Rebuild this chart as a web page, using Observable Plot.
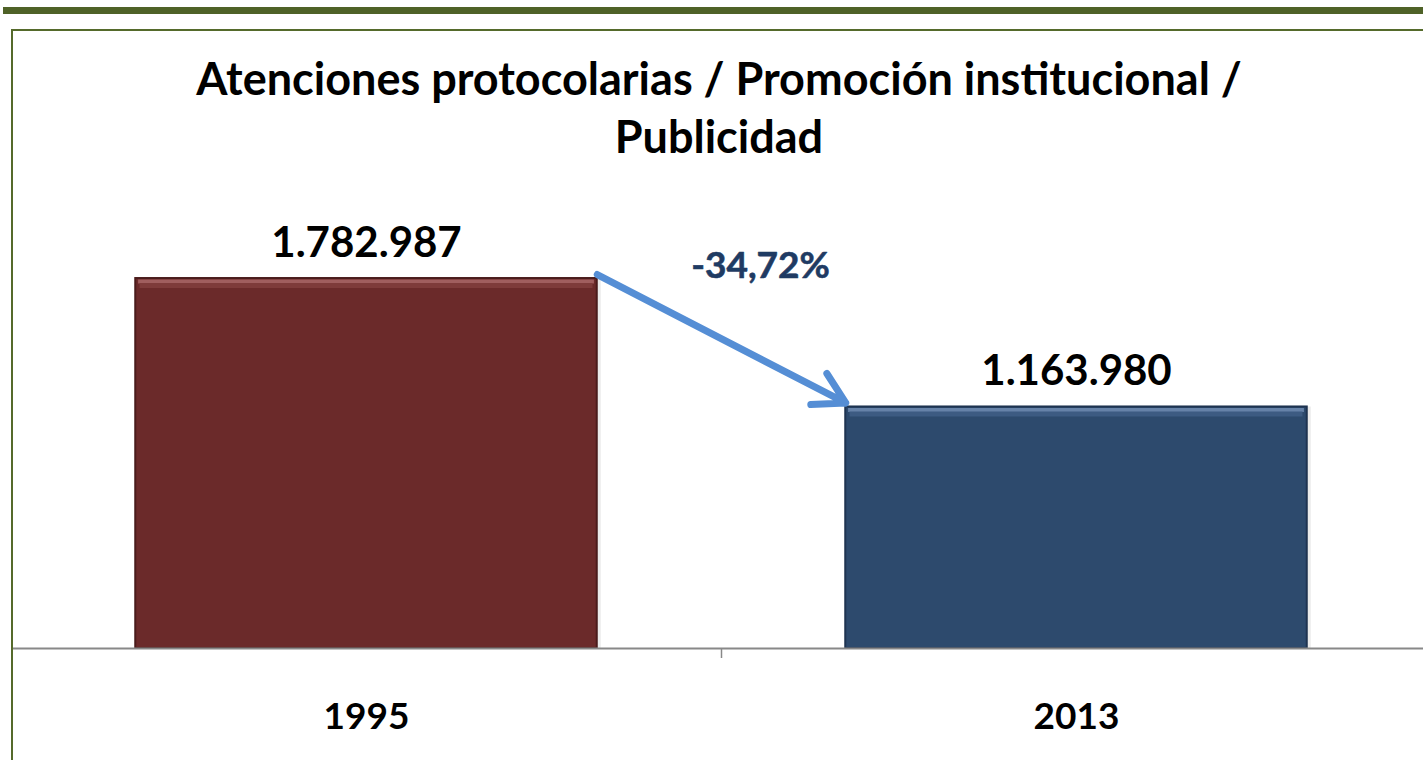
<!DOCTYPE html>
<html>
<head>
<meta charset="utf-8">
<script src="https://cdn.jsdelivr.net/npm/d3@7"></script>
<script src="https://cdn.jsdelivr.net/npm/@observablehq/plot@0.6"></script>
<style>
  html, body { margin: 0; padding: 0; background: #fff; overflow: hidden; }
  #wrap { position: relative; width: 1423px; height: 760px; }
  #band { position: absolute; left: 3px; top: 7px; width: 1420px; height: 7px; background: #4f6228; }
  #frame { position: absolute; left: 11px; top: 29px; width: 1500px; height: 800px;
           border-left: 2px solid #556a2b; border-top: 2px solid #556a2b; pointer-events: none; }
  #title { position: absolute; left: 0; top: 49px; width: 1438px; text-align: center;
           font-family: Lato, "Open Sans", sans-serif; font-weight: bold; font-size: 45px;
           line-height: 58px; color: #000; }
  #chart { position: absolute; left: 0; top: 0; }
</style>
</head>
<body>
<div id="wrap">
  <div id="chart"></div>
  <div id="band"></div>
  <div id="frame"></div>
  <div id="title"></div>
</div>
<script>
// ---- data ----
const titleLines = ["Atenciones protocolarias / Promoción institucional /", "Publicidad"];
const years = ["1995", "2013"];
const values = [1782987, 1163980];

// ---- styles ----
const fills = ["#6b2a2a", "#2d4a6d"];
const edges = ["#4a1b1b", "#1e3350"];
const highlights = ["#a05e5e", "#6682a8"];
const midlights = ["#7e3b3a", "#3d5b82"];
const barHalf = 0.325;

document.getElementById("title").innerHTML = titleLines.join("<br>");

const data = years.map((year, i) => ({year, i, value: values[i]}));
const fmt = v => v.toLocaleString("de-DE");
const pct = (values[1] / values[0] - 1) * 100;
const pctLabel = pct.toFixed(2).replace(".", ",") + "%";

const plot = Plot.plot({
  width: 1423,
  height: 760,
  marginTop: 233,
  marginBottom: 112,
  marginLeft: 13,
  marginRight: 0,
  style: {background: "transparent", fontFamily: "Lato, 'Open Sans', sans-serif"},
  x: {type: "linear", domain: [-0.5, 1.5], range: [11, 1431]},
  y: {domain: [0, 2000000], axis: null},
  color: {type: "identity"},
  marks: [
    // soft shadow
    Plot.rectY(data, {x1: d => d.i - barHalf, x2: d => d.i + barHalf, y: "value",
      fill: "#000", fillOpacity: 0.08, dx: 4, dy: 0}),
    // bars
    Plot.rectY(data, {x1: d => d.i - barHalf, x2: d => d.i + barHalf, y: "value",
      fill: d => fills[d.i], stroke: d => edges[d.i], strokeWidth: 2}),
    // bevel highlight on top
    Plot.ruleY(data, {x1: d => d.i - barHalf + 0.004, x2: d => d.i + barHalf - 0.004, y: "value",
      stroke: d => highlights[d.i], strokeWidth: 4, dy: 3}),
    Plot.ruleY(data, {x1: d => d.i - barHalf + 0.006, x2: d => d.i + barHalf - 0.006, y: "value",
      stroke: d => midlights[d.i], strokeWidth: 5, dy: 7}),
    // baseline
    Plot.ruleY([0], {stroke: "#888888", strokeWidth: 2}),
    // category boundary tick
    Plot.axisX({ticks: [0.5], tickSize: 10, tickFormat: () => "", stroke: "#888888", strokeWidth: 1.5, label: null}),
    // category labels
    Plot.axisX({ticks: [0, 1], tickFormat: i => years[i], tickSize: 0, tickPadding: 54,
      fontSize: 37, fontWeight: "bold", fill: "#000", label: null}),
    // value labels
    Plot.text(data, {x: "i", y: "value", text: d => fmt(d.value), dy: -35,
      fontSize: 42, fontWeight: "bold", fill: "#000"}),
    // change arrow
    Plot.arrow([0], {x1: () => 0 + barHalf, y1: () => values[0], x2: () => 1 - barHalf, y2: () => values[1],
      stroke: "#558ed5", strokeWidth: 7, headLength: 7.5, headAngle: 60, dy: -4}),
    Plot.text([pctLabel], {x: () => 0.5, y: () => values[0], text: d => d, dx: 39, dy: -12,
      fontSize: 37, fontWeight: "bold", fill: "#1f3b63", stroke: "#1f3b63", strokeWidth: 0.6})
  ]
});
document.getElementById("chart").appendChild(plot);
</script>
</body>
</html>
